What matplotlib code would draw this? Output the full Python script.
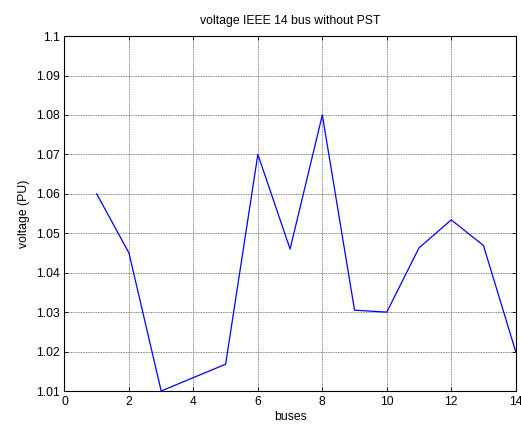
import matplotlib
matplotlib.use('Agg')
import matplotlib.pyplot as plt

buses = [1, 2, 3, 4, 5, 6, 7, 8, 9, 10, 11, 12, 13, 14]
voltage = [1.06, 1.045, 1.01, 1.0134, 1.0168, 1.07, 1.046, 1.08, 1.0305,
           1.030, 1.0463, 1.0534, 1.0469, 1.020]

plt.rcParams['font.family'] = ['Liberation Sans', 'DejaVu Sans']
plt.rcParams['font.size'] = 8.8

fig = plt.figure(figsize=(5.21, 4.25), dpi=100)
ax = fig.add_axes([0.1238, 0.08, 0.866, 0.835])
ax.plot(buses, voltage, color='blue', linewidth=0.9)

ax.set_xlim(0, 14)
ax.set_ylim(1.01, 1.1)
ax.set_xticks(range(0, 15, 2))
ax.set_yticks([1.01, 1.02, 1.03, 1.04, 1.05, 1.06, 1.07, 1.08, 1.09, 1.1])
ax.set_yticklabels(['1.01', '1.02', '1.03', '1.04', '1.05', '1.06', '1.07',
                    '1.08', '1.09', '1.1'])
ax.grid(True, color='0.35', linestyle=(0, (1, 1)), linewidth=0.6)
ax.tick_params(direction='in', top=True, right=True, length=3, width=0.6,
               colors='black')
for s in ax.spines.values():
    s.set_linewidth(0.8)

ax.set_title('voltage IEEE 14 bus without PST', fontsize=8.8, pad=9)
ax.set_xlabel('buses', labelpad=2)
ax.set_ylabel('voltage (PU)', labelpad=4)

fig.savefig('out.png', dpi=100)
